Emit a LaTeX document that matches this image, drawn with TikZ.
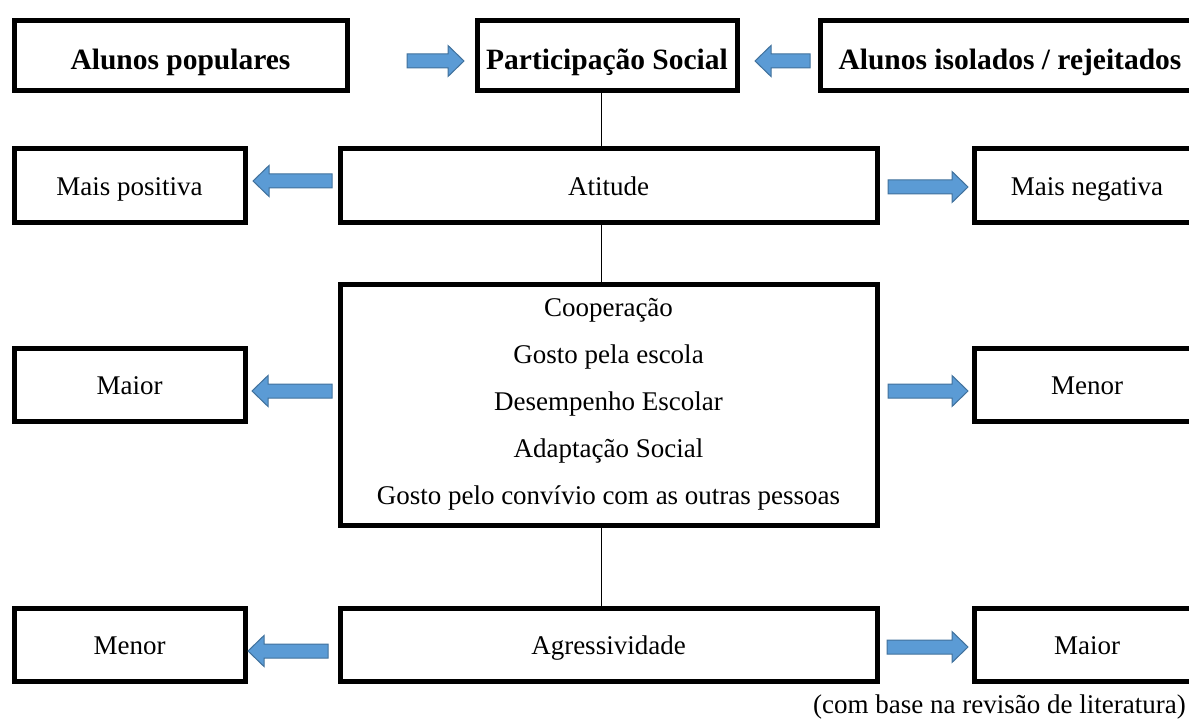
\documentclass[tikz,border=0pt]{standalone}
\usepackage{fontspec}
\setmainfont{Liberation Serif}
\definecolor{arrowfill}{HTML}{5B9BD5}
\definecolor{arrowline}{HTML}{41719C}
\begin{document}
\begin{tikzpicture}[x=1pt,y=-1pt,
  box/.style={draw,line width=5pt,inner sep=0pt,font=\fontsize{27}{32}\selectfont,text height=23pt,text depth=3.5pt},
  boldbox/.style={box,font=\fontsize{29.5}{34}\selectfont\bfseries,text height=31pt,text depth=2.5pt},
  bigbox/.style={draw,line width=5pt,inner sep=0pt,font=\fontsize{27}{47}\selectfont,align=center},
  conn/.style={line width=1.3pt},
  barrowstyle/.style={fill=arrowfill,draw=arrowline,line width=1pt,line join=miter},
  barrow/.pic={\path[barrowstyle] (0,-7) -- ({#1-16},-7) -- ({#1-16},-15.5) -- (#1,0) -- ({#1-16},15.5) -- ({#1-16},7) -- (0,7) -- cycle;}
]
\useasboundingbox (0,0) rectangle (1189,722);
\clip (0,0) rectangle (1189,722);
\coordinate (lx) at (601.5,0);

% Row 1
\node[boldbox,minimum width=333pt,minimum height=70pt] (pop) at (180.5,55.5) {Alunos populares};
\node[boldbox,minimum width=260pt,minimum height=70pt] (part) at (607,55.5) {Participação Social};
\node[boldbox,minimum width=380pt,minimum height=70pt] (iso) at (1010,55.5) {Alunos isolados / rejeitados};
\pic at (407,61) {barrow=57};
\pic[xscale=-1] at (810,61) {barrow=55};

% Row 2
\node[box,minimum width=231pt,minimum height=74pt] (mpos) at (129.5,186) {Mais positiva};
\node[box,minimum width=537pt,minimum height=74pt] (atit) at (608.5,186) {Atitude};
\node[box,minimum width=226pt,minimum height=74pt] (mneg) at (1087,186) {Mais negativa};
\pic[xscale=-1] at (332,181) {barrow=79};
\pic at (888,187) {barrow=80};

% Row 3
\node[box,minimum width=231pt,minimum height=73pt] (maior1) at (129.5,384.5) {Maior};
\node[bigbox,minimum width=537pt,minimum height=241pt] (comp) at (608.5,404.5)
  {Cooperação\\Gosto pela escola\\Desempenho Escolar\\Adaptação Social\\Gosto pelo convívio com as outras pessoas};
\node[box,minimum width=226pt,minimum height=73pt] (menor1) at (1087,384.5) {Menor};
\pic[xscale=-1] at (332,391) {barrow=80};
\pic at (888,391) {barrow=80};

% Row 4
\node[box,minimum width=231pt,minimum height=73pt] (menor2) at (129.5,644.5) {Menor};
\node[box,minimum width=537pt,minimum height=73pt] (agr) at (608.5,644.5) {Agressividade};
\node[box,minimum width=226pt,minimum height=73pt] (maior2) at (1087,644.5) {Maior};
\pic[xscale=-1] at (328,651) {barrow=80};
\pic at (887,647) {barrow=81};

% Connectors
\draw[conn] (part.south -| lx) -- (atit.north -| lx);
\draw[conn] (atit.south -| lx) -- ([yshift=-2pt]comp.north -| lx);
\draw[conn] ([yshift=2pt]comp.south -| lx) -- (agr.north -| lx);

% Source
\node[anchor=base west,inner sep=0pt,font=\fontsize{27}{32}\selectfont] (src) at (813,713) {(com base na revisão de literatura)};
\end{tikzpicture}
\end{document}
